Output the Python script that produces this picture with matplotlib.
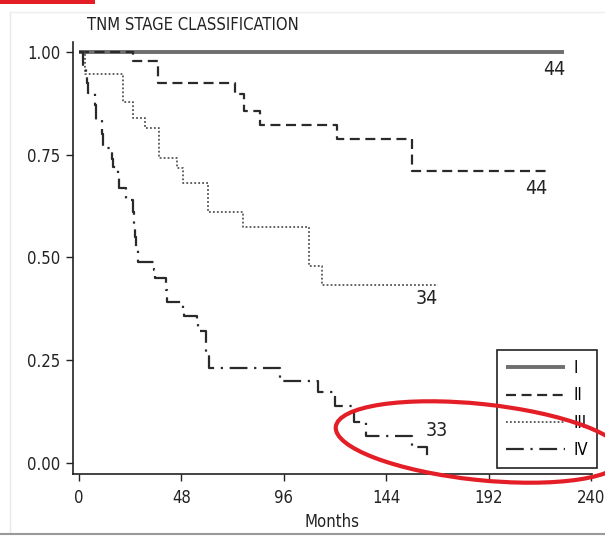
import matplotlib
matplotlib.use("Agg")
import matplotlib.pyplot as plt
from matplotlib.patches import Ellipse, Rectangle
from matplotlib.lines import Line2D
from matplotlib.transforms import IdentityTransform

plt.rcParams['font.family'] = ['DejaVu Sans']
plt.rcParams['font.stretch'] = 'condensed'

# Kaplan-Meier step data (months, survival after the step)
t_I = [0, 227.3]
s_I = [1.0, 1.0]

t_II = [0, 25.1, 37.0, 73.0, 77.4, 84.8, 120.8, 156.3, 219.5]
s_II = [1.0, 0.977, 0.925, 0.898, 0.857, 0.823, 0.787, 0.709, 0.709]

t_III = [0, 2.8, 20.6, 25.1, 31.0, 37.5, 45.8, 48.8, 60.6, 76.9, 108.0, 113.9, 168.2]
s_III = [1.0, 0.947, 0.877, 0.84, 0.814, 0.743, 0.717, 0.68, 0.61, 0.574, 0.48, 0.433, 0.433]

t_IV = [0, 1.9, 3.4, 3.9, 4.4, 7.4, 7.9, 10.8, 11.3, 15.3, 15.8, 18.2, 18.7, 22.2, 25.1,
        25.6, 26.1, 26.6, 27.6, 35.0, 35.5, 40.9, 41.4, 48.8, 49.3, 55.2, 55.7, 59.7, 61.1,
        94.2, 111.9, 119.8, 128.7, 134.6, 156.3, 163.2, 163.2]
s_IV = [1.0, 0.966, 0.945, 0.925, 0.90, 0.87, 0.835, 0.80, 0.765, 0.74, 0.72, 0.695, 0.668,
        0.64, 0.61, 0.58, 0.55, 0.52, 0.489, 0.47, 0.45, 0.42, 0.392, 0.375, 0.357, 0.34,
        0.32, 0.27, 0.232, 0.199, 0.172, 0.138, 0.099, 0.065, 0.039, 0.039, 0.017]

stages = ['I', 'II', 'III', 'IV']
at_risk = ['44', '44', '34', '33']
x_ticks = [0, 48, 96, 144, 192, 240]
y_ticks = [0.0, 0.25, 0.50, 0.75, 1.00]
y_ticklabels = ['0.00', '0.25', '0.50', '0.75', '1.00']

fig = plt.figure(figsize=(6.05, 5.36), dpi=100)
fig.patch.set_facecolor('white')
ax = fig.add_axes([73/605, 62/536, 519/605, 432/536])

dark = '#2a2a2a'
sty_I = dict(color='#6e6e6e', lw=2.8, solid_capstyle='butt')
sty_II = dict(color=dark, lw=1.6, linestyle=(0, (4.5, 2.5)))
sty_III = dict(color='#555555', lw=1.3, linestyle=(0, (1, 1.2)))
sty_IV = dict(color=dark, lw=1.6, linestyle=(0, (8, 3, 1, 3)))

ax.step(t_I, s_I, where='post', **sty_I)
ax.step(t_II, s_II, where='post', **sty_II)
ax.step(t_III, s_III, where='post', **sty_III)
ax.step(t_IV, s_IV, where='post', **sty_IV)

ax.set_xlim(-2.8, 240.5)
ax.set_ylim(-0.027, 1.024)
ax.set_xticks(x_ticks)
ax.set_xticklabels([str(v) for v in x_ticks])
ax.set_yticks(y_ticks)
ax.set_yticklabels(y_ticklabels)
ax.tick_params(direction='out', length=5, width=1, labelsize=12, colors='#222222')
ax.tick_params(axis='x', pad=6)
ax.tick_params(axis='y', pad=4)
for sp in ['top', 'right']:
    ax.spines[sp].set_visible(False)
for sp in ['left', 'bottom']:
    ax.spines[sp].set_linewidth(1.2)
    ax.spines[sp].set_color('#222222')

ax.set_xlabel('Months', fontsize=12, color='#222222', labelpad=4)
fig.text(87/605, 1 - 25/536, 'TNM STAGE CLASSIFICATION', fontsize=11.9, color='#222222',
         ha='left', va='center')

# number-at-risk labels at curve ends
lab = dict(fontsize=14, color='#222222', va='center')
ax.text(227.8, 0.958, at_risk[0], ha='right', **lab)
ax.text(219.5, 0.667, at_risk[1], ha='right', **lab)
ax.text(168.2, 0.400, at_risk[2], ha='right', **lab)
ax.text(162.7, 0.078, at_risk[3], ha='left', **lab)

handles = [Line2D([], [], **sty_I), Line2D([], [], **sty_II),
           Line2D([], [], **sty_III), Line2D([], [], **sty_IV)]
leg = fig.legend(handles, stages, loc='upper left', bbox_to_anchor=(497/605, 1 - 350/536),
                 frameon=True, fancybox=False, fontsize=12, handlelength=3.5,
                 handletextpad=0.55, labelspacing=0.55, borderpad=0.55, borderaxespad=0,
                 framealpha=1)
leg.get_frame().set_edgecolor('#222222')
leg.get_frame().set_linewidth(1.2)

# screenshot frame and red annotation marks
fig.add_artist(Line2D([10, 10], [2, 524], transform=IdentityTransform(), color='#e8e8e8', lw=1))
fig.add_artist(Line2D([10, 605], [524, 524], transform=IdentityTransform(), color='#eeeeee', lw=1))
fig.add_artist(Line2D([0, 605], [2, 2], transform=IdentityTransform(), color='#999999', lw=1.5))
fig.add_artist(Rectangle((0, 532), 95, 4, transform=IdentityTransform(),
                         color='#e41e26', lw=0, zorder=10))
fig.add_artist(Ellipse((480, 536 - 442), 290, 76, angle=-6, transform=IdentityTransform(),
                       fill=False, edgecolor='#e41e26', lw=3, zorder=10))

fig.savefig('out.png', dpi=100)
